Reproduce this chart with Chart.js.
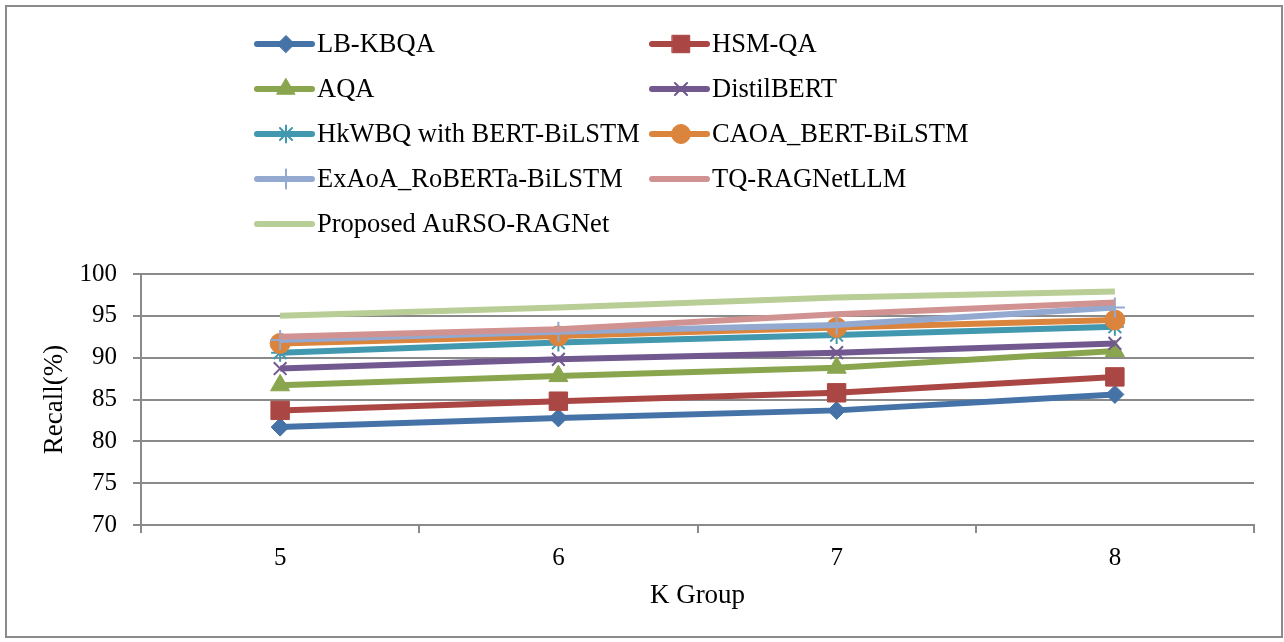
<!DOCTYPE html>
<html><head><meta charset="utf-8">
<script src="https://cdn.jsdelivr.net/npm/chart.js@4/dist/chart.umd.min.js"></script>
<style>html,body{margin:0;padding:0;background:#fff;}#wrap{width:1284px;height:642px;position:relative;}</style>
</head><body><div id="wrap"><canvas id="c" width="1284" height="642"></canvas></div>
<script>
const categories = ['5', '6', '7', '8'];
const lbKbqa     = [81.7, 82.8, 83.7, 85.6];
const hsmQa      = [83.7, 84.8, 85.8, 87.7];
const aqa        = [86.7, 87.8, 88.8, 90.8];
const distilBert = [88.7, 89.8, 90.6, 91.7];
const hkwbq      = [90.6, 91.8, 92.7, 93.7];
const caoa       = [91.7, 92.6, 93.6, 94.5];
const exaoa      = [92.1, 93.1, 93.9, 96.0];
const tqRag      = [92.5, 93.4, 95.2, 96.6];
const proposed   = [95.0, 96.0, 97.2, 97.9];
const seriesNames = ['LB-KBQA', 'HSM-QA', 'AQA', 'DistilBERT', 'HkWBQ with BERT-BiLSTM',
  'CAOA_BERT-BiLSTM', 'ExAoA_RoBERTa-BiLSTM', 'TQ-RAGNetLLM', 'Proposed AuRSO-RAGNet'];
const yTicks = [70, 75, 80, 85, 90, 95, 100];
const xTitle = 'K Group';
const yTitle = 'Recall(%)';

const seriesData = [lbKbqa, hsmQa, aqa, distilBert, hkwbq, caoa, exaoa, tqRag, proposed];
const colors = ['#4572A7', '#AA4643', '#89A54E', '#71588F', '#4198AF', '#DB843D', '#93A9CF', '#D19392', '#B9CD96'];
const styles = ['rectRot', 'rect', 'triangle', 'crossRot', 'star', 'circle', 'cross', false, false];
const radii  = [9, 13, 11, 9, 9, 10, 10, 0, 0];
const FONT = "'Liberation Serif', 'Times New Roman', serif";
const GRID = '#8a8a8a';

const datasets = seriesData.map((d, i) => {
  const thin = styles[i] === 'crossRot' || styles[i] === 'star' || styles[i] === 'cross';
  return {
    label: seriesNames[i], data: d,
    borderColor: colors[i], backgroundColor: colors[i],
    borderWidth: 6, tension: 0,
    pointStyle: styles[i] || 'circle',
    pointRadius: radii[i], pointHoverRadius: radii[i],
    pointBorderWidth: thin ? 2 : 1,
    pointBackgroundColor: colors[i], pointBorderColor: colors[i],
    order: -i
  };
});

const legendPlugin = {
  id: 'customLegend',
  afterDraw(chart) {
    const ctx = chart.ctx;
    ctx.save();
    ctx.strokeStyle = GRID; ctx.lineWidth = 2;
    ctx.strokeRect(6, 6, 1276, 631);
    chart.data.datasets.forEach((ds, i) => {
      const col = i % 2, row = Math.floor(i / 2);
      const x0 = col === 0 ? 257 : 652;
      const y = 44 + row * 45;
      ctx.strokeStyle = ds.borderColor; ctx.lineWidth = 6; ctx.lineCap = 'round';
      ctx.beginPath(); ctx.moveTo(x0, y); ctx.lineTo(x0 + 55, y); ctx.stroke();
      if (ds.pointRadius > 0) {
        ctx.fillStyle = ds.pointBackgroundColor; ctx.strokeStyle = ds.pointBorderColor;
        ctx.lineWidth = ds.pointBorderWidth;
        Chart.helpers.drawPoint(ctx, {pointStyle: ds.pointStyle, radius: ds.pointRadius * 0.95, rotation: 0, borderWidth: ds.pointBorderWidth}, x0 + 29, y);
      }
      ctx.fillStyle = '#000'; ctx.font = "26.5px " + FONT;
      ctx.textAlign = 'left'; ctx.textBaseline = 'middle';
      ctx.fillText(ds.label, x0 + 60, y + 1);
    });
    ctx.restore();
  }
};

new Chart(document.getElementById('c'), {
  type: 'line',
  data: { labels: categories, datasets },
  options: {
    responsive: false, animation: false, devicePixelRatio: 1,
    layout: { padding: { left: 39, top: 274, right: 30, bottom: 30 } },
    plugins: { legend: { display: false }, tooltip: { enabled: false } },
    elements: { line: { borderCapStyle: 'butt' } },
    scales: {
      x: {
        type: 'category', offset: true,
        grid: { display: true, offset: true, drawOnChartArea: false, drawTicks: true, tickLength: 8, color: GRID, lineWidth: 2 },
        border: { display: true, color: GRID, width: 2 },
        ticks: { color: '#000', font: { family: FONT, size: 25 }, padding: 10, maxRotation: 0 },
        title: { display: true, text: xTitle, color: '#000', font: { family: FONT, size: 27 }, padding: 0 },
        afterFit(s) { s.height = 612 - 525; }
      },
      y: {
        min: 70, max: 100,
        afterBuildTicks(s) { s.ticks = yTicks.map(v => ({ value: v })); },
        grid: { color: GRID, lineWidth: 2, tickLength: 8 },
        border: { display: true, color: GRID, width: 2 },
        ticks: { color: '#000', font: { family: FONT, size: 25 }, padding: 16 },
        title: { display: true, text: yTitle, color: '#000', font: { family: FONT, size: 27 }, padding: 0 },
        afterFit(s) { s.width = 141 - 39; }
      }
    }
  },
  plugins: [legendPlugin]
});
</script></body></html>
